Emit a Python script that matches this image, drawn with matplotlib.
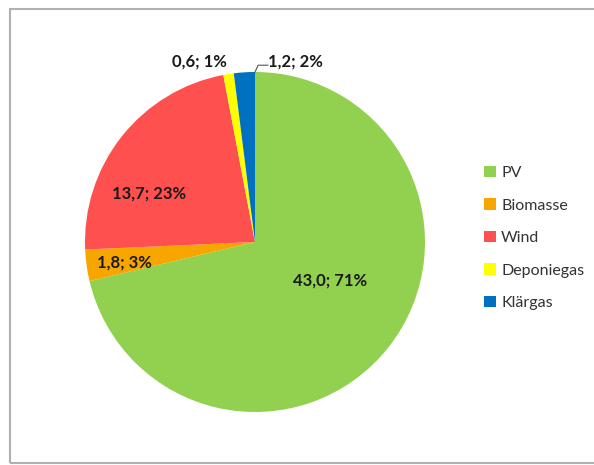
import matplotlib.pyplot as plt
from matplotlib.patches import Rectangle, Patch

# Daten
kategorien = ['PV', 'Biomasse', 'Wind', 'Deponiegas', 'Klärgas']
werte = [43.0, 1.8, 13.7, 0.6, 1.2]
prozent_labels = ['43,0; 71%', '1,8; 3%', '13,7; 23%', '0,6; 1%', '1,2; 2%']
farben = ['#92D050', '#F7A600', '#FF5050', '#FFFF00', '#0070C0']

# Label-Positionen (in Einheiten des Radius)
label_pos = [(0.44, -0.225), (-0.77, -0.118), (-0.625, 0.288), (-0.325, 1.06), (0.24, 1.06)]

plt.rcParams['font.family'] = ['Lato', 'DejaVu Sans']

fig = plt.figure(figsize=(5.94, 4.65), dpi=100)
fig.patch.set_facecolor('white')

# grauer Rahmen
fig.patches.append(Rectangle((10 / 594, 2 / 465), 1.0, 1 - 11 / 465, transform=fig.transFigure,
                             fill=False, edgecolor='#B0B0B0', linewidth=1.5))

ax = fig.add_axes([85 / 594, 53 / 465, 340 / 594, 340 / 465])
wedges, _ = ax.pie(werte, colors=farben, startangle=90, counterclock=False, radius=1.0)
ax.set_xlim(-1, 1)
ax.set_ylim(-1, 1)
ax.set_aspect('equal')
ax.axis('off')

for (x, y), txt in zip(label_pos, prozent_labels):
    ax.text(x, y, txt, ha='center', va='center', fontsize=12, fontweight='bold', color='#1a1a1a')

# Führungslinie für Klärgas
ax.plot([0.0, 0.018, 0.076], [1.0, 1.04, 1.04], color='#555555', linewidth=0.8, clip_on=False)

handles = [Patch(facecolor=c, edgecolor='none') for c in farben]
fig.legend(handles, kategorien, loc='center left', bbox_to_anchor=(470 / 594, 1 - 238 / 465),
           frameon=False, fontsize=11.5, labelspacing=1.15, handlelength=0.7, handleheight=0.7,
           handletextpad=0.35, labelcolor='#333333')

plt.savefig('out.png', dpi=100)
